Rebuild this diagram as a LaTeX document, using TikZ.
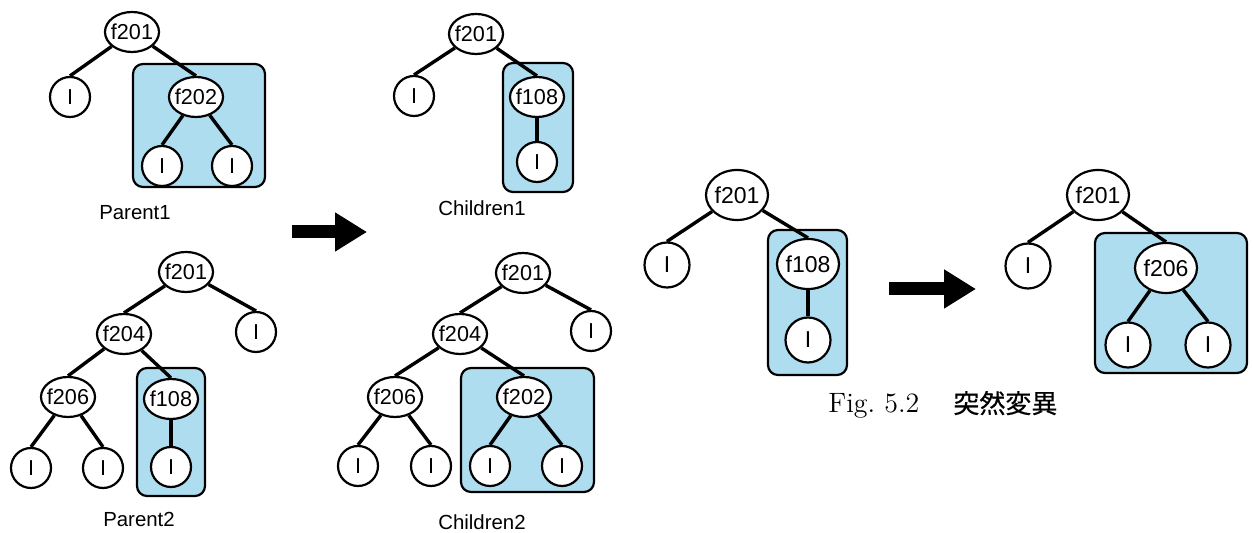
\documentclass[tikz,border=0pt]{standalone}
\usepackage{fontspec}
\setsansfont{Liberation Sans}
\newfontfamily\jpfont[FakeBold=0.5]{Noto Sans CJK JP}
\usetikzlibrary{arrows.meta,shapes.geometric}
\definecolor{boxblue}{RGB}{174,221,240}

\begin{document}
\begin{tikzpicture}[x=0.5pt,y=-0.5pt,
  fn/.style={draw, ellipse, line width=1.1pt, fill=white, inner xsep=-1pt, inner ysep=0pt,
    minimum width=27pt, minimum height=20pt, font=\sffamily\fontsize{10.8}{12}\selectfont},
  tn/.style={draw, circle, line width=1.1pt, fill=white, inner sep=0pt,
    minimum size=20pt, font=\sffamily\fontsize{10.8}{12}\selectfont},
  fnb/.style={fn, minimum width=31pt, minimum height=25pt, font=\sffamily\fontsize{11.5}{13}\selectfont},
  tnb/.style={tn, minimum size=22.5pt, font=\sffamily\fontsize{11.5}{13}\selectfont},
  edge/.style={line width=1.7pt},
  subtree/.style={draw, line width=1.1pt, fill=boxblue, rounded corners=5pt},
  lbl/.style={anchor=base, inner sep=0pt, font=\sffamily\fontsize{10.2}{12}\selectfont},
  bigarrow/.style={line width=6.5pt, -{Triangle[length=16pt,width=18.5pt]}}]
\useasboundingbox (0,0) rectangle (1253,533);

\draw[subtree] (133,64) rectangle (265,187);
\draw[subtree] (137,368) rectangle (205,496);
\draw[subtree] (503,63) rectangle (573,192);
\draw[subtree] (461,368) rectangle (594,492);
\draw[subtree] (768,230) rectangle (847,375);
\draw[subtree] (1095,233) rectangle (1247,373);

\node[fn] (a1) at (132,32) {f201};
\node[tn] (a2) at (70,97) {I};
\node[fn] (a3) at (196,97) {f202};
\node[tn] (a4) at (162,166) {I};
\node[tn] (a5) at (232,166) {I};
\node[lbl] (a6) at (135,220) {Parent1};

\node[fn] (b1) at (186,272) {f201};
\node[tn] (b2) at (256,332) {I};
\node[fn] (b3) at (124,334) {f204};
\node[fn] (b4) at (68,397) {f206};
\node[fn] (b5) at (171,399) {f108};
\node[tn] (b6) at (31,468) {I};
\node[tn] (b7) at (103,468) {I};
\node[tn] (b8) at (171,467) {I};
\node[lbl] (b9) at (139,527) {Parent2};

\node[fn] (c1) at (476,34) {f201};
\node[tn] (c2) at (414,96) {I};
\node[fn] (c3) at (537,97) {f108};
\node[tn] (c4) at (537,162) {I};
\node[lbl] (c5) at (482,216) {Children1};

\node[fn] (d1) at (523,273) {f201};
\node[tn] (d2) at (591,331) {I};
\node[fn] (d3) at (460,334) {f204};
\node[fn] (d4) at (395,397) {f206};
\node[fn] (d5) at (524,397) {f202};
\node[tn] (d6) at (358,466) {I};
\node[tn] (d7) at (431,466) {I};
\node[tn] (d8) at (490,466) {I};
\node[tn] (d9) at (562,466) {I};
\node[lbl] (d10) at (482,530) {Children2};

\node[fnb] (e1) at (737,195) {f201};
\node[tnb] (e2) at (667,265) {I};
\node[fnb] (e3) at (808,264) {f108};
\node[tnb] (e4) at (808,340) {I};

\node[fnb] (g1) at (1098,195) {f201};
\node[tnb] (g2) at (1028,266) {I};
\node[fnb] (g3) at (1166,268) {f206};
\node[tnb] (g4) at (1128,345) {I};
\node[tnb] (g5) at (1208,345) {I};

\foreach \p/\c in {a1/a2,a1/a3,a3/a4,a3/a5,
                   b1/b3,b1/b2,b3/b4,b3/b5,b4/b6,b4/b7,b5/b8,
                   c1/c2,c1/c3,c3/c4,
                   d1/d3,d1/d2,d3/d4,d3/d5,d4/d6,d4/d7,d5/d8,d5/d9,
                   e1/e2,e1/e3,e3/e4,
                   g1/g2,g1/g3,g3/g4,g3/g5}
  \draw[edge] (\p) -- (\c.north);

\coordinate (r1s) at (292,232);
\coordinate (r1e) at (367,232);
\coordinate (r2s) at (889,289);
\coordinate (r2e) at (976,289);
\draw[bigarrow] (r1s) -- (r1e);
\draw[bigarrow] (r2s) -- (r2e);

\node[anchor=base west, inner sep=0pt, font=\fontsize{14}{16}\selectfont] (cap) at (828,413) {Fig.~5.2};
\node[anchor=base west, inner sep=0pt, font=\jpfont\fontsize{13}{15}\selectfont] (capjp) at (953,413) {突然変異};
\end{tikzpicture}
\end{document}
